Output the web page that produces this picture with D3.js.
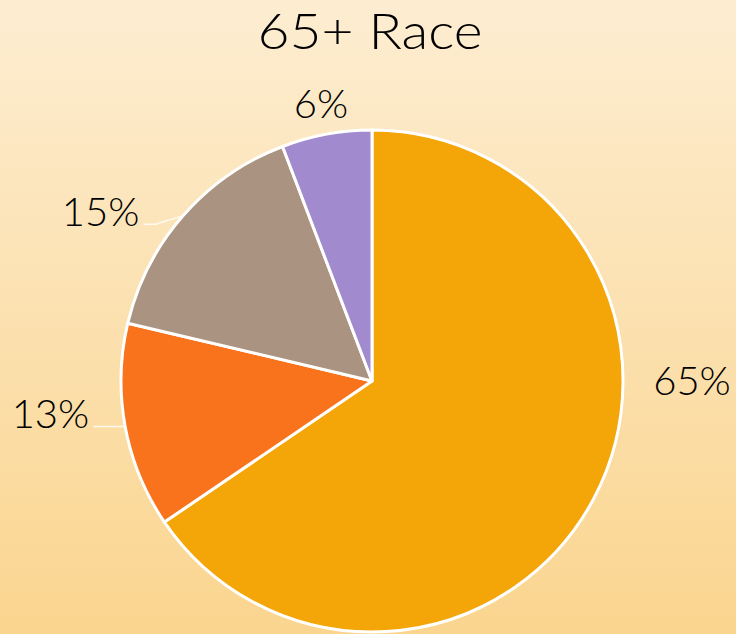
<!DOCTYPE html>
<html><head><meta charset="utf-8">
<script src="https://cdn.jsdelivr.net/npm/d3@7"></script>
<style>html,body{margin:0;padding:0;overflow:hidden;}svg{display:block;}</style>
</head><body>
<svg id="c" width="736" height="634"></svg>
<script>
const title = "65+ Race";
const categories = ["White", "Black", "Hispanic", "Other"];
const values = [65.5, 13.2, 15.5, 5.8];
const labels = ["65%", "13%", "15%", "6%"];
const colors = ["#F4A508", "#F9731C", "#AB9382", "#A18ACE"];

const W = 736, H = 634;
const svg = d3.select("#c");
const defs = svg.append("defs");
const g = defs.append("linearGradient").attr("id","bg").attr("x1",0).attr("y1",0).attr("x2",0).attr("y2",1);
g.append("stop").attr("offset","0%").attr("stop-color","#FDEDD1");
g.append("stop").attr("offset","100%").attr("stop-color","#FAD58F");
svg.append("rect").attr("width",W).attr("height",H).attr("fill","url(#bg)");

const font = "'Lato', 'Open Sans', sans-serif";
svg.append("text").attr("x",370).attr("y",49).attr("text-anchor","middle")
  .attr("font-family",font).attr("font-weight",300).attr("font-size",49)
  .attr("textLength",225).attr("lengthAdjust","spacingAndGlyphs")
  .attr("fill","#000").text(title);

const cx = 372, cy = 381, r = 251;
const pie = d3.pie().sort(null).value(d=>d)(values);
const arc = d3.arc().innerRadius(0).outerRadius(r);
const chart = svg.append("g").attr("transform",`translate(${cx},${cy})`);
chart.selectAll("path").data(pie).join("path")
  .attr("d",arc).attr("fill",(d,i)=>colors[i])
  .attr("stroke","#fff").attr("stroke-width",3).attr("stroke-linejoin","round");

// label placement (best-fit style)
const labelCfg = [
  {angle: 90, dist: 320, leader: false},
  {angle: null, dist: 327, leader: true},
  {angle: 302, dist: 320, leader: true},
  {angle: null, dist: 282, leader: false}
];
const toXY = (deg, d) => { const a = deg*Math.PI/180; return [Math.sin(a)*d, -Math.cos(a)*d]; };
pie.forEach((p,i)=>{
  const mid = (p.startAngle+p.endAngle)/2*180/Math.PI;
  const cfg = labelCfg[i];
  const ang = cfg.angle===null ? mid : cfg.angle;
  let [lx, ly] = toXY(ang, cfg.dist);
  if (i===1) ly = 33;
  const t = chart.append("text").attr("x",lx).attr("y",ly).attr("dy","0.36em")
    .attr("text-anchor","middle").attr("font-family",font).attr("font-weight",300)
    .attr("font-size",40).attr("fill","#000").text(labels[i]);
  if (cfg.leader) {
    const bb = t.node().getBBox();
    const [ex, ey] = toXY(mid, r);
    const sx = bb.x + bb.width + 4, sy = bb.y + bb.height*0.78;
    const pts = Math.abs(ey - sy) > 3 ? [[sx,sy],[sx+12,sy],[ex,ey]] : [[sx,ey],[ex,ey]];
    chart.append("path").attr("d", d3.line()(pts)).attr("fill","none")
      .attr("stroke","#FFFAF0").attr("stroke-width",1.4);
  }
});
</script>
</body></html>
